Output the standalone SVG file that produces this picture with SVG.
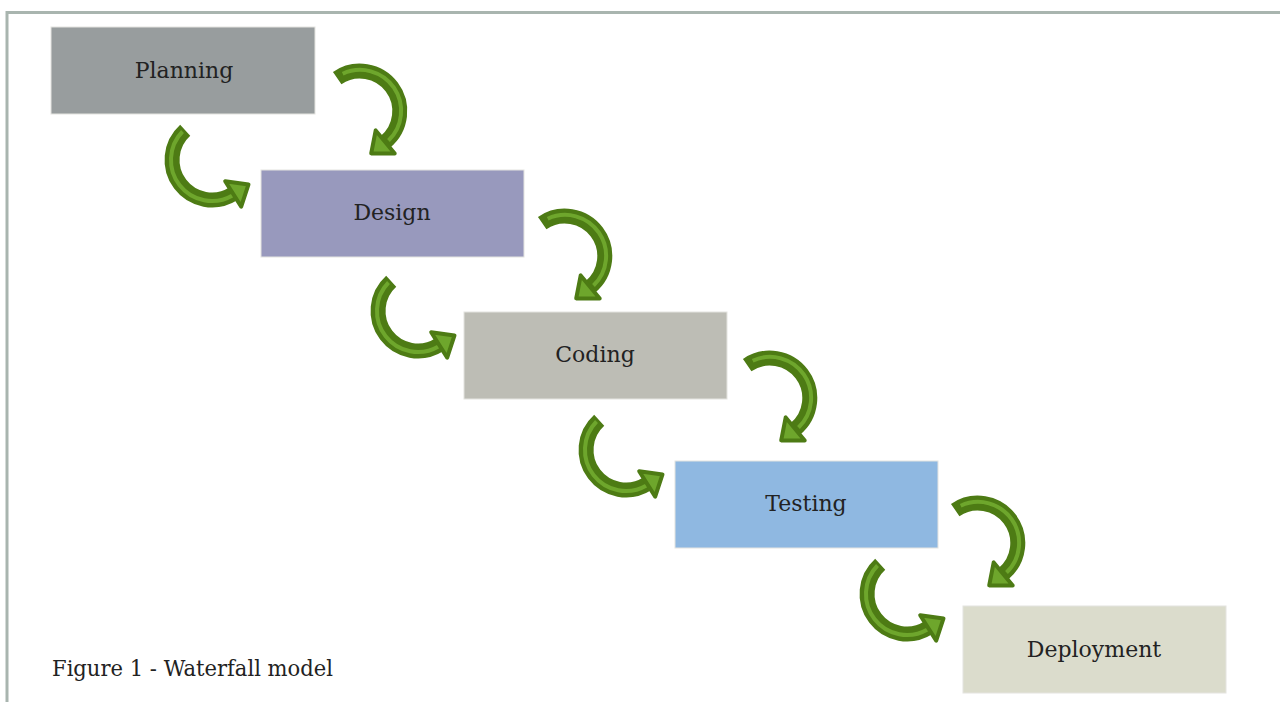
<svg xmlns="http://www.w3.org/2000/svg" xmlns:xlink="http://www.w3.org/1999/xlink" width="1280" height="702" viewBox="0 0 1280 702">
<style>
.lbl{font-family:"DejaVu Serif","Liberation Serif",serif;font-size:22px;fill:#222222;text-anchor:middle}
.cap{font-family:"DejaVu Serif","Liberation Serif",serif;font-size:23px;fill:#222222}
.band{fill:none;stroke:#4d7b14;stroke-width:15;stroke-linecap:butt}
.hi{fill:none;stroke:#6ea62c;stroke-width:4;stroke-linecap:butt}
.head{fill:#6ea62c;stroke:#4d7b14;stroke-width:4;stroke-linejoin:round}
.box{stroke:#e4e4e0;stroke-width:1}
</style>
<defs>
<g id="arrowR">
<path class="band" d="M337.2,78.1 A40,40 0 0 1 385.2,142.0"/>
<path class="hi" d="M342.7,73.8 A41,41 0 0 1 388.5,140.5"/>
<polygon class="head" points="394.7,153.6 375.7,130.4 371.2,153.4"/>
</g>
<g id="arrowL">
<path class="band" d="M185.2,130.3 A40,40 0 0 0 233.2,193.9"/>
<path class="hi" d="M182.5,131.5 A41,41 0 0 0 232.5,195.5"/>
<polygon class="head" points="241.2,206.6 225.2,181.2 248.5,184.4"/>
</g>
</defs>
<rect width="1280" height="702" fill="#ffffff"/>
<path d="M7,702 V12.5 H1280" fill="none" stroke="#a9b5af" stroke-width="3"/>
<g id="planning">
<rect class="box" x="51" y="27" width="264" height="87" fill="#989d9e"/>
<text class="lbl" x="184" y="78">Planning</text>
</g>
<g id="design">
<rect class="box" x="261" y="170" width="263" height="87" fill="#9899bd"/>
<text class="lbl" x="392" y="220">Design</text>
</g>
<g id="coding">
<rect class="box" x="464" y="312" width="263" height="87" fill="#bdbdb5"/>
<text class="lbl" x="595" y="362">Coding</text>
</g>
<g id="testing">
<rect class="box" x="675" y="461" width="263" height="87" fill="#8fb8e1"/>
<text class="lbl" x="806" y="511">Testing</text>
</g>
<g id="deployment">
<rect class="box" x="963" y="606" width="263" height="87" fill="#dbdccc"/>
<text class="lbl" x="1094" y="657">Deployment</text>
</g>
<g id="connectors">
<use xlink:href="#arrowR"/>
<use xlink:href="#arrowL"/>
<use xlink:href="#arrowR" x="205" y="145"/>
<use xlink:href="#arrowL" x="206" y="151"/>
<use xlink:href="#arrowR" x="410" y="287"/>
<use xlink:href="#arrowL" x="414" y="290"/>
<use xlink:href="#arrowR" x="618" y="432"/>
<use xlink:href="#arrowL" x="695" y="434"/>
</g>
<text class="cap" x="52" y="676" textLength="281" lengthAdjust="spacingAndGlyphs">Figure 1 - Waterfall model</text>
</svg>
